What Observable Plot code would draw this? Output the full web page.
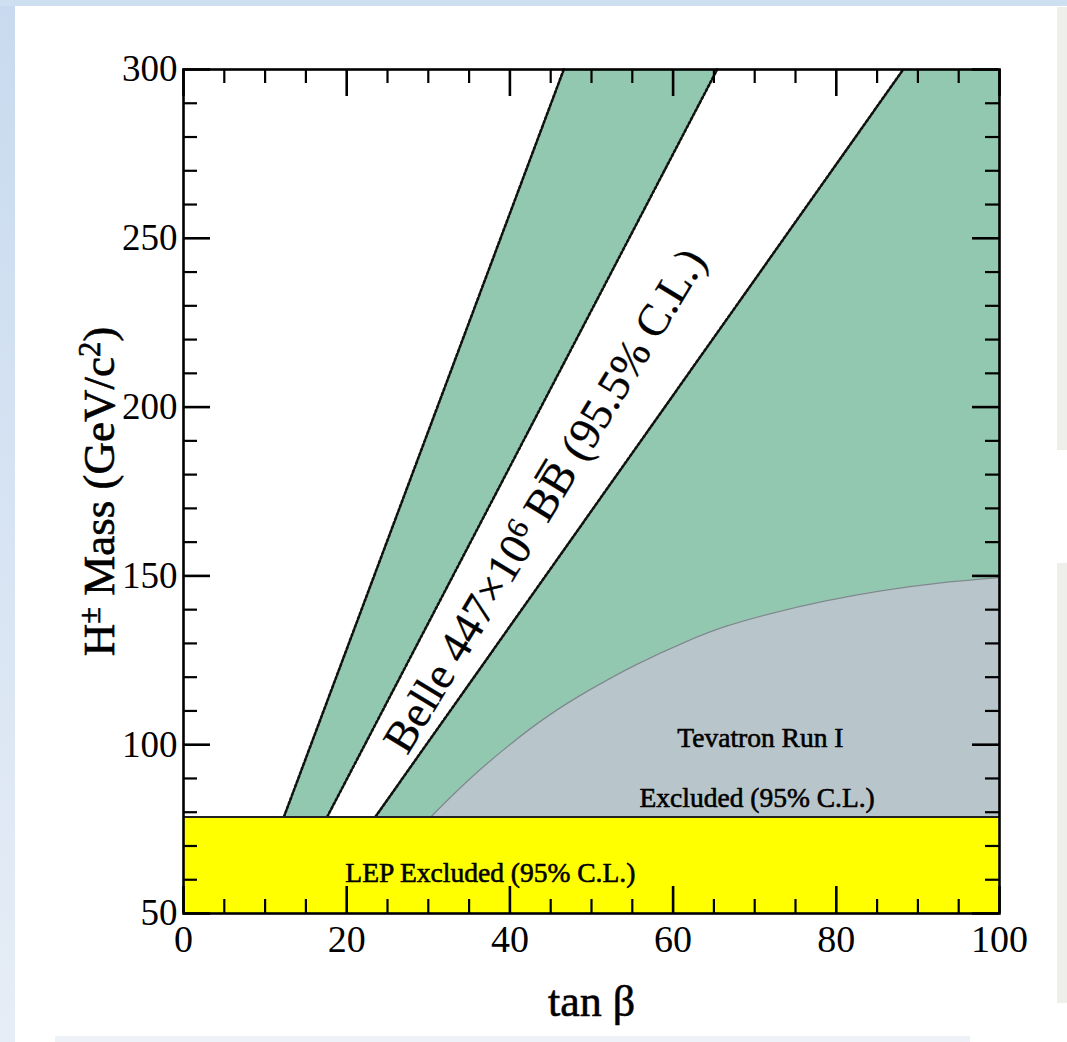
<!DOCTYPE html>
<html>
<head>
<meta charset="utf-8">
<script src="https://cdn.jsdelivr.net/npm/d3@7"></script>
<script src="https://cdn.jsdelivr.net/npm/@observablehq/plot@0.6"></script>
<style>
html, body { margin: 0; padding: 0; }
body { width: 1067px; height: 1042px; position: relative; overflow: hidden; background: #ffffff; font-family: "Liberation Serif", serif; }
.bg { position: absolute; }
#bgL { left: 0; top: 0; width: 15px; height: 1042px; background: linear-gradient(#c8daef, #e6edf6); }
#bgT { left: 0; top: 0; width: 1067px; height: 6px; background: #cddff0; }
#bgR1 { left: 1057px; top: 7px; width: 10px; height: 443px; background: #eeefeb; }
#bgR2 { left: 1057px; top: 563px; width: 10px; height: 440px; background: #eeefeb; }
#bgB { left: 55px; top: 1036px; width: 915px; height: 6px; background: #eef1f8; }
#chart { position: absolute; left: 0; top: 0; }
</style>
</head>
<body>
<div class="bg" id="bgL"></div>
<div class="bg" id="bgT"></div>
<div class="bg" id="bgR1"></div>
<div class="bg" id="bgR2"></div>
<div class="bg" id="bgB"></div>
<div id="chart"></div>
<script>
// ---------------- data ----------------
const tanBetaDomain = [0, 100];
const massDomain = [50, 300];
const tanBetaTicks = [0, 20, 40, 60, 80, 100];
const tanBetaMinorTicks = [5, 10, 15, 25, 30, 35, 45, 50, 55, 65, 70, 75, 85, 90, 95];
const massTicks = [50, 100, 150, 200, 250, 300];
const massMinorTicks = [60, 70, 80, 90, 110, 120, 130, 140, 160, 170, 180, 190, 210, 220, 230, 240, 260, 270, 280, 290];

const lepLimit = 78.6;

// Belle boundary lines (tan beta at the LEP limit and at 300 GeV)
const belleLine1 = [{tb: 12.3, m: 78.6}, {tb: 46.6, m: 300}];
const belleLine2 = [{tb: 17.6, m: 78.6}, {tb: 65.4, m: 300}];
const belleLine3 = [{tb: 23.5, m: 78.6}, {tb: 88.2, m: 300}];

// Tevatron Run I exclusion boundary
const tevatronTb = [30.3, 35.0, 40.1, 44.5, 49.5, 55.5, 61.8, 66.5, 71.9, 78.5, 85.4, 92.5, 100];
const tevatronM  = [78.6, 90.0, 100.4, 108.5, 116.0, 124.0, 130.9, 135.3, 138.9, 142.6, 145.7, 148.0, 149.5];

const labels = {
  x: "tan β",
  y: "H± Mass (GeV/c²)",
  belle: "Belle 447×10⁶ BB\u0305 (95.5% C.L.)",
  tev1: "Tevatron Run I",
  tev2: "Excluded (95% C.L.)",
  lep: "LEP Excluded (95% C.L.)"
};
const annot = [
  {key: "tev1", tb: 70.7, m: 101.8},
  {key: "tev2", tb: 70.3, m: 84.1},
  {key: "lep", tb: 37.6, m: 61.8}
];
const belleLabelPos = {tb: 44.3, m: 172.3};

// ---------------- derived tables ----------------
const bandA = [
  {m: belleLine1[0].m, a: belleLine1[0].tb, b: belleLine2[0].tb},
  {m: belleLine1[1].m, a: belleLine1[1].tb, b: belleLine2[1].tb}
];
const bandB = [
  {m: belleLine3[0].m, a: belleLine3[0].tb, b: tanBetaDomain[1]},
  {m: belleLine3[1].m, a: belleLine3[1].tb, b: tanBetaDomain[1]}
];
const tevatron = tevatronTb.map((tb, i) => ({tb, m: tevatronM[i]}));
const lepRegion = [{x1: tanBetaDomain[0], x2: tanBetaDomain[1], y1: massDomain[0], y2: lepLimit}];

// ---------------- layout ----------------
const W = 1067, H = 1042;
const mL = 183, mR = 68, mT = 69, mB = 129;
const fw = W - mL - mR, fh = H - mT - mB;
const green = "#93c8b0", grey = "#b8c5cb", yellow = "#ffff00";
const majorLen = 27, minorLen = 14;
const font = "Liberation Serif";
const heavy = {fill: "black", stroke: "black", strokeWidth: 0.6};
const tickHeavy = {fill: "black", stroke: "black", strokeWidth: 0.45};

const lineStyle = {x: "tb", y: "m", stroke: "#111", strokeWidth: 2.6, strokeDasharray: "2.4,2.2"};
const lineUnder = {x: "tb", y: "m", stroke: "#666", strokeWidth: 1.3};

const chart = Plot.plot({
  width: W, height: H,
  marginLeft: mL, marginRight: mR, marginTop: mT, marginBottom: mB,
  style: {background: "transparent", fontFamily: font, color: "black"},
  x: {domain: tanBetaDomain},
  y: {domain: massDomain},
  marks: [
    Plot.areaX(bandA, {y: "m", x1: "a", x2: "b", fill: green}),
    Plot.areaX(bandB, {y: "m", x1: "a", x2: "b", fill: green}),
    Plot.areaY(tevatron, {x: "tb", y1: lepLimit, y2: "m", fill: grey, curve: "basis"}),
    Plot.line(tevatron, {x: "tb", y: "m", stroke: "#7c8a8c", strokeWidth: 1.3, curve: "basis"}),
    Plot.line(belleLine1, lineUnder), Plot.line(belleLine1, lineStyle),
    Plot.line(belleLine2, lineUnder), Plot.line(belleLine2, lineStyle),
    Plot.line(belleLine3, lineUnder), Plot.line(belleLine3, lineStyle),
    Plot.rect(lepRegion, {x1: "x1", x2: "x2", y1: "y1", y2: "y2", fill: yellow}),
    Plot.ruleY([lepLimit], {stroke: "#222", strokeWidth: 2}),
    // inward ticks: bottom / top
    Plot.tickX(tanBetaTicks, {x: d => d, insetTop: fh - majorLen, stroke: "black", strokeWidth: 2.6}),
    Plot.tickX(tanBetaMinorTicks, {x: d => d, insetTop: fh - minorLen, stroke: "black", strokeWidth: 2.2}),
    Plot.tickX(tanBetaTicks, {x: d => d, insetBottom: fh - majorLen, stroke: "black", strokeWidth: 2.6}),
    Plot.tickX(tanBetaMinorTicks, {x: d => d, insetBottom: fh - minorLen, stroke: "black", strokeWidth: 2.2}),
    // inward ticks: left / right
    Plot.tickY(massTicks, {y: d => d, insetRight: fw - majorLen, stroke: "black", strokeWidth: 2.6}),
    Plot.tickY(massMinorTicks, {y: d => d, insetRight: fw - minorLen, stroke: "black", strokeWidth: 2.2}),
    Plot.tickY(massTicks, {y: d => d, insetLeft: fw - majorLen, stroke: "black", strokeWidth: 2.6}),
    Plot.tickY(massMinorTicks, {y: d => d, insetLeft: fw - minorLen, stroke: "black", strokeWidth: 2.2}),
    Plot.frame({stroke: "black", strokeWidth: 2.6}),
    // tick labels
    Plot.axisX(tanBetaTicks, {anchor: "bottom", tickSize: 0, tickPadding: 12, fontSize: 38, label: null, ...tickHeavy}),
    Plot.axisY(massTicks, {anchor: "left", tickSize: 0, tickPadding: 6, fontSize: 37, label: null, ...tickHeavy}),
    // axis titles
    Plot.text([labels.x], {frameAnchor: "bottom", dy: 88, fontSize: 44, lineAnchor: "middle", textAnchor: "middle", ...heavy}),
    Plot.text([labels.y], {frameAnchor: "left", dx: -84, rotate: -90, fontSize: 45, lineAnchor: "middle", textAnchor: "middle", ...heavy}),
    // annotations
    Plot.text([labels.belle], {x: () => belleLabelPos.tb, y: () => belleLabelPos.m, rotate: -58.8, fontSize: 45, textAnchor: "middle", fill: "black", stroke: "black", strokeWidth: 0.3}),
    Plot.text(annot, {x: "tb", y: "m", text: d => labels[d.key], fontSize: 27.5, textAnchor: "middle", ...heavy})
  ]
});

// superscripts for the y-axis title and Belle label
function setParts(el, parts) {
  el.textContent = "";
  const ns = "http://www.w3.org/2000/svg";
  let raised = false;
  for (const [s, sup] of parts) {
    const t = document.createElementNS(ns, "tspan");
    t.textContent = s;
    if (sup && !raised) { t.setAttribute("dy", "-0.45em"); t.setAttribute("font-size", "0.68em"); raised = true; }
    else if (sup) { t.setAttribute("font-size", "0.68em"); }
    else if (!sup && raised) { t.setAttribute("dy", "0.306em"); raised = false; }
    el.appendChild(t);
  }
}
for (const t of chart.querySelectorAll("text")) {
  if (t.textContent === labels.y) setParts(t, [["H", false], ["±", true], [" Mass (GeV/c", false], ["2", true], [")", false]]);
  else if (t.textContent === labels.belle) setParts(t, [["Belle 447×10", false], ["6", true], [" BB\u0305 (95.5% C.L.)", false]]);
}
document.getElementById("chart").appendChild(chart);
</script>
</body>
</html>
